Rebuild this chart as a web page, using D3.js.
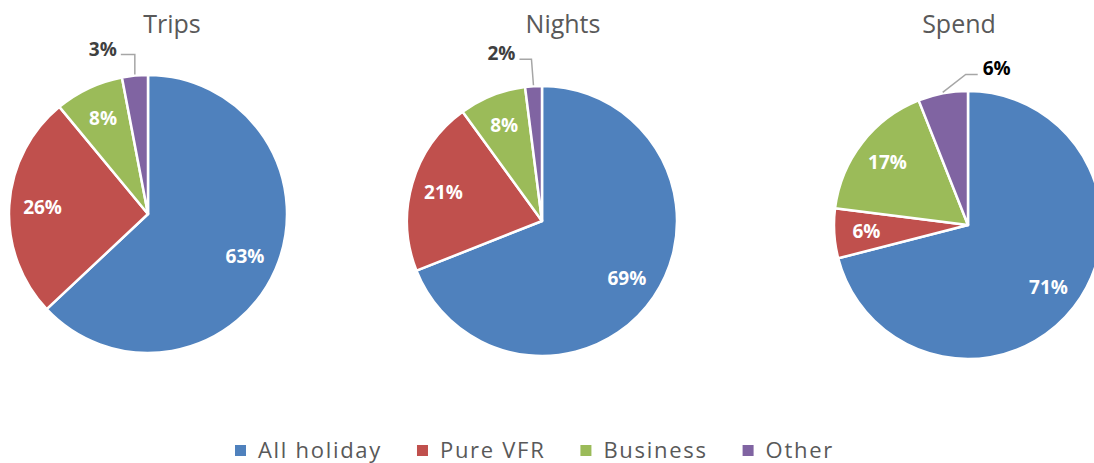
<!DOCTYPE html>
<html>
<head>
<meta charset="utf-8">
<script src="https://cdn.jsdelivr.net/npm/d3@7"></script>
<style>
  body { margin: 0; background: #fff; }
  svg { display: block; }
</style>
</head>
<body>
<div id="chart"></div>
<script>
// data
var categories = ["All holiday", "Pure VFR", "Business", "Other"];
var colors = ["#4F81BD", "#C0504D", "#9BBB59", "#8064A2"];
var titles = ["Trips", "Nights", "Spend"];
var trips = [63, 26, 8, 3];
var nights = [69, 21, 8, 2];
var spend = [71, 6, 17, 6];

var width = 1094, height = 463;

var svg = d3.select("#chart").append("svg")
    .attr("width", width)
    .attr("height", height);

// layout for each pie (centre, radius, title pos, leader label for the small slice)
var pies = [
    { values: trips, cx: 148, cy: 214, r: 139, titleX: 172,
      leader: { dx1: 0, dy1: -20, dx2: -14, anchor: "end", color: "#404040" } },
    { values: nights, cx: 542, cy: 221, r: 135, titleX: 563,
      leader: { dx1: -2, dy1: -26, dx2: -12, anchor: "end", color: "#404040" } },
    { values: spend, cx: 968, cy: 225, r: 134, titleX: 959,
      leader: { dx1: 23, dy1: -18, dx2: 12, anchor: "start", color: "#000" } }
];

var pie = d3.pie().sort(null).value(function(d) { return d; });

pies.forEach(function(p, i) {
    var arcs = pie(p.values);

    var arc = d3.arc().innerRadius(0).outerRadius(p.r);
    var labelArc = d3.arc().innerRadius(p.r * 0.76).outerRadius(p.r * 0.76);

    svg.append("text")
        .text(titles[i])
        .attr("x", p.titleX)
        .attr("y", 33)
        .attr("text-anchor", "middle")
        .attr("font-family", "Open Sans, sans-serif")
        .attr("font-size", 25)
        .attr("fill", "#595959");

    var g = svg.append("g")
        .attr("transform", "translate(" + p.cx + "," + p.cy + ")");

    g.selectAll("path.slice")
        .data(arcs)
        .enter().append("path")
        .attr("class", "slice")
        .attr("d", arc)
        .attr("fill", function(d, j) { return colors[j]; })
        .attr("stroke", "#fff")
        .attr("stroke-width", 2.5)
        .attr("stroke-linejoin", "round");

    // inside labels, the last (Other) slice gets a leader label instead
    g.selectAll("text.inside")
        .data(arcs.slice(0, 3))
        .enter().append("text")
        .attr("class", "inside")
        .text(function(d) { return d.data + "%"; })
        .attr("x", function(d) { return labelArc.centroid(d)[0]; })
        .attr("y", function(d) { return labelArc.centroid(d)[1]; })
        .attr("dy", "0.35em")
        .attr("text-anchor", "middle")
        .attr("font-family", "Open Sans, sans-serif")
        .attr("font-weight", "bold")
        .attr("font-size", 19)
        .attr("fill", "#fff");

    // leader label for the small slice
    var small = arcs[3];
    var mid = (small.startAngle + small.endAngle) / 2;
    var px = Math.sin(mid) * (p.r + 1);
    var py = -Math.cos(mid) * (p.r + 1);
    var L = p.leader;
    var ex = px + L.dx1, ey = py + L.dy1;
    var fx = ex + L.dx2;

    g.append("path")
        .attr("d", d3.line()([[px, py], [ex, ey], [fx, ey]]))
        .attr("fill", "none")
        .attr("stroke", "#A6A6A6")
        .attr("stroke-width", 1.5);

    g.append("text")
        .text(small.data + "%")
        .attr("x", fx + (L.anchor === "end" ? -4 : 5))
        .attr("y", ey)
        .attr("dy", "0.05em")
        .attr("text-anchor", L.anchor)
        .attr("font-family", "Open Sans, sans-serif")
        .attr("font-weight", "bold")
        .attr("font-size", 19)
        .attr("fill", L.color);
});

// legend
var legend = svg.append("g").attr("transform", "translate(235,0)");
var lx = 0;
categories.forEach(function(c, i) {
    var item = legend.append("g").attr("transform", "translate(" + lx + ",0)");
    item.append("rect")
        .attr("x", 0)
        .attr("y", 445)
        .attr("width", 11)
        .attr("height", 11)
        .attr("fill", colors[i]);
    var t = item.append("text")
        .text(c)
        .attr("x", 23)
        .attr("y", 458)
        .attr("font-family", "Open Sans, sans-serif")
        .attr("font-size", 22)
        .attr("letter-spacing", 1.7)
        .attr("fill", "#595959");
    lx += 23 + t.node().getComputedTextLength() + 35;
});
</script>
</body>
</html>
